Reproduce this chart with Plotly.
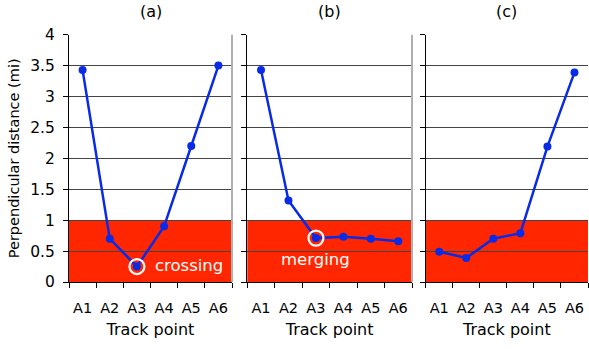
import plotly.graph_objects as go

track_points = ["A1", "A2", "A3", "A4", "A5", "A6"]
dist_a = [3.43, 0.70, 0.25, 0.90, 2.20, 3.50]
dist_b = [3.43, 1.32, 0.71, 0.73, 0.70, 0.66]
dist_c = [0.49, 0.39, 0.70, 0.79, 2.19, 3.39]
panel_titles = ["(a)", "(b)", "(c)"]
threshold = 1.0
events = [("crossing", 2, 3.92, 0.27), ("merging", 2, 2.0, 0.36), (None, None, None, None)]
y_ticks = [0, 0.5, 1, 1.5, 2, 2.5, 3, 3.5, 4]
y_tick_text = ["0", "0.5", "1", "1.5", "2", "2.5", "3", "3.5", "4"]

W, H = 589, 349
FONT = "DejaVu Sans"
BLUE = "#0A2BE6"
RED = "#FF2600"

domains_px = [(69, 232), (247.3, 412), (425.7, 588)]
top_px, bot_px = 34.7, 282
y_dom = [(H - bot_px) / H, (H - top_px) / H]

fig = go.Figure()
series = [dist_a, dist_b, dist_c]
for i, vals in enumerate(series):
    xa = "x" if i == 0 else f"x{i+1}"
    ya = "y" if i == 0 else f"y{i+1}"
    fig.add_trace(go.Scatter(
        x=track_points, y=vals, mode="lines+markers", xaxis=xa, yaxis=ya,
        line=dict(color=BLUE, width=2.5), marker=dict(color=BLUE, size=8),
        showlegend=False, hoverinfo="skip"))
    label, idx, tx, ty = events[i]
    if label is not None:
        fig.add_trace(go.Scatter(
            x=[track_points[idx]], y=[vals[idx]], mode="markers", xaxis=xa, yaxis=ya,
            marker=dict(symbol="circle-open", size=15, color="white",
                        line=dict(color="white", width=2.2)),
            showlegend=False, hoverinfo="skip"))
        fig.add_annotation(x=tx, y=ty, xref=xa, yref=ya, text=label, showarrow=False,
                           font=dict(family=FONT, size=16.5, color="white"))
    # red band below threshold
    fig.add_shape(type="rect", xref=f"{xa} domain", yref=ya, x0=0, x1=1, y0=0, y1=threshold,
                  fillcolor=RED, line=dict(width=0), layer="below")
    # right border
    if i < 2:
        fig.add_shape(type="line", xref=f"{xa} domain", yref=f"{ya} domain", x0=1, x1=1, y0=0, y1=1,
                      line=dict(color="#b0b0b0", width=2), layer="above")
    x0p, x1p = domains_px[i]
    xkey = "xaxis" if i == 0 else f"xaxis{i+1}"
    ykey = "yaxis" if i == 0 else f"yaxis{i+1}"
    fig.update_layout(**{
        xkey: dict(domain=[x0p / W, min(1.0, x1p / W)], anchor=ya, type="category",
                   categoryorder="array", categoryarray=track_points,
                   range=[-0.5, 5.5], showgrid=False, showline=True, linecolor="black",
                   linewidth=1, ticks="outside", ticklen=5, tickcolor="black",
                   tickson="boundaries", tickangle=0, automargin=False,
                   ticklabelstandoff=13,
                   tickfont=dict(family=FONT, size=14.5, color="black"),
                   title=dict(text="Track point", font=dict(family=FONT, size=16, color="black"),
                              standoff=8),
                   zeroline=False, fixedrange=True),
        ykey: dict(domain=y_dom, anchor=xa, range=[0, 4], tickvals=y_ticks,
                   ticktext=y_tick_text if i == 0 else None,
                   showticklabels=(i == 0), showgrid=True, gridcolor="#444444", gridwidth=1,
                   showline=True, linecolor="black", linewidth=1, ticks="outside",
                   ticklen=5, tickcolor="black", zeroline=False, automargin=False,
                   tickfont=dict(family=FONT, size=15.5, color="black"),
                   ticklabelstandoff=5,
                   title=dict(text="Perpendicular distance (mi)" if i == 0 else "",
                              font=dict(family=FONT, size=14.5, color="black"), standoff=7),
                   fixedrange=True),
    })
    fig.add_annotation(x=(x0p + x1p) / 2 / W, y=(H - 11) / H,
                       xref="paper", yref="paper", xanchor="center", yanchor="middle",
                       text=panel_titles[i], showarrow=False,
                       font=dict(family=FONT, size=16, color="black"))

fig.update_layout(width=W, height=H, margin=dict(l=0, r=0, t=0, b=0),
                  paper_bgcolor="white", plot_bgcolor="white")
fig.write_html("out.html", config={"displayModeBar": False},
               post_script="document.body.style.margin='0';")
